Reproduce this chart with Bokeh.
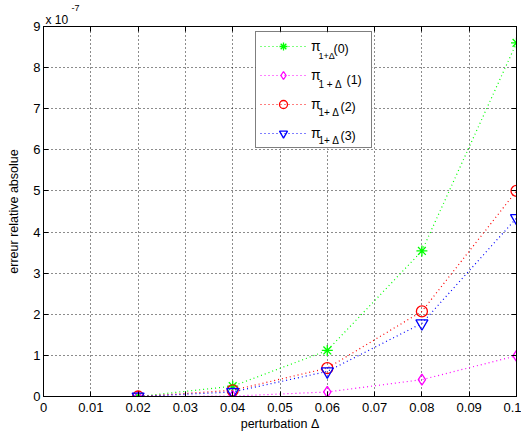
from bokeh.plotting import figure
from bokeh.models import (Range1d, FixedTicker, LinearAxis, Legend, LegendItem,
                          Label, ColumnDataSource, BoxAnnotation, Title)
from bokeh.embed import file_html
from bokeh.resources import INLINE

# ---------------- data ----------------
delta = [0.0, 0.02, 0.04, 0.06, 0.08, 0.10]
err0 = [0.0, 0.0, 0.25, 1.12, 3.54, 8.60]   # x 1e-7
err1 = [0.0, 0.0, 0.01, 0.11, 0.41, 0.99]
err2 = [0.0, 0.0, 0.15, 0.69, 2.07, 5.00]
err3 = [0.0, 0.0, 0.11, 0.61, 1.78, 4.34]
series_names = ["(0)", "(1)", "(2)", "(3)"]
subscripts = ["1+\u0394", "1 + \u0394", "1+ \u0394", "1+ \u0394"]
x_ticks = [0, 0.01, 0.02, 0.03, 0.04, 0.05, 0.06, 0.07, 0.08, 0.09, 0.1]
x_tick_labels = ["0", "0.01", "0.02", "0.03", "0.04", "0.05", "0.06", "0.07", "0.08", "0.09", "0.1"]
y_ticks = [0, 1, 2, 3, 4, 5, 6, 7, 8, 9]

FONT = "Liberation Sans"

p = figure(width=521, height=439, output_backend="svg", toolbar_location=None,
           x_range=Range1d(0, 0.1), y_range=Range1d(0, 9),
           min_border_left=43, min_border_right=5, min_border_top=26, min_border_bottom=43)
p.outline_line_color = "black"
p.outline_line_width = 1
p.background_fill_color = "white"
p.border_fill_color = "white"

for ax in (p.xaxis[0], p.yaxis[0]):
    ax.major_tick_in = 5
    ax.major_tick_out = 0
    ax.minor_tick_in = 0
    ax.minor_tick_out = 0
    ax.axis_line_color = "black"
    ax.major_tick_line_color = "black"
    ax.major_label_text_font = FONT
    ax.major_label_text_font_size = "13px"
    ax.major_label_text_color = "black"
    ax.axis_label_text_font = FONT
    ax.axis_label_text_font_size = "12.5px"
    ax.axis_label_text_font_style = "normal"
    ax.axis_label_text_color = "black"

p.xaxis[0].ticker = FixedTicker(ticks=x_ticks)
p.xaxis[0].major_label_overrides = dict(zip(x_ticks, x_tick_labels))
p.xaxis[0].major_label_standoff = 6
p.xaxis[0].axis_label = "perturbation \u0394"
p.xaxis[0].axis_label_standoff = 2

p.yaxis[0].ticker = FixedTicker(ticks=y_ticks)
p.yaxis[0].major_label_standoff = 3
p.yaxis[0].axis_label = "erreur relative absolue"
p.yaxis[0].axis_label_standoff = 9

for loc in ("right", "above"):
    tks = x_ticks if loc == "above" else y_ticks
    ax = LinearAxis(ticker=FixedTicker(ticks=tks))
    ax.major_tick_in = 5
    ax.major_tick_out = 0
    ax.minor_tick_in = 0
    ax.minor_tick_out = 0
    ax.major_label_overrides = {t: "" for t in tks}
    ax.major_label_standoff = 0
    ax.axis_line_color = "black"
    p.add_layout(ax, loc)

# x 10^-7 multiplier as titles in the top panel
p.add_layout(Title(text="x 10", align="left", offset=2, text_font=FONT,
                   text_font_size="12px", text_font_style="normal",
                   text_color="black", standoff=0), "above")
p.add_layout(Title(text="-7", align="left", offset=28, text_font=FONT,
                   text_font_size="9px", text_font_style="normal",
                   text_color="black", standoff=0), "above")

p.xgrid.ticker = FixedTicker(ticks=x_ticks)
p.ygrid.ticker = FixedTicker(ticks=y_ticks)
for g in (p.xgrid[0], p.ygrid[0]):
    g.grid_line_color = "black"
    g.grid_line_dash = "1 3"
    g.grid_line_width = 1
    g.grid_line_alpha = 0.9

# white background behind the legend (screen units, relative to the frame)
FL, FB = 43, 396
p.add_layout(BoxAnnotation(left=255 - FL, right=372 - FL, top=FB - 32, bottom=FB - 148,
                           left_units="screen", right_units="screen",
                           top_units="screen", bottom_units="screen",
                           fill_color="white", fill_alpha=1, line_color=None))

colors = ["#00ff00", "#ff00ff", "#ff0000", "#0000ff"]
markers = ["asterisk", "diamond", "circle", "inverted_triangle"]
sizes = [11, 11, 11, 12]
items = []
for ys, c, m, s in zip([err0, err1, err2, err3], colors, markers, sizes):
    src = ColumnDataSource(dict(x=delta, y=ys))
    msrc = ColumnDataSource(dict(x=delta[1:], y=ys[1:]))
    ln = p.line("x", "y", source=src, line_color=c, line_dash="1 3", line_width=1.2)
    mk = p.scatter("x", "y", source=msrc, marker=m, size=s, line_color=c,
                   fill_color=None, line_width=1.3)
    items.append(LegendItem(label="\u03c0", renderers=[ln, mk]))

# legend subscripts and indices (page positions of the reference layout)
sub_base = [55, 84, 112, 140]
sub_size = ["9px", "10px", "10px", "10px"]
idx_x = [333, 346, 340, 340]
idx_base = [48, 79, 106, 135]
for sb, ss, sub, ix, ib, nm in zip(sub_base, sub_size, subscripts, idx_x, idx_base, series_names):
    p.add_layout(Label(x=318 - FL, y=FB - sb, x_units="screen", y_units="screen",
                       text=sub, text_font=FONT, text_font_size=ss,
                       text_color="black", text_baseline="alphabetic"))
    p.add_layout(Label(x=ix - FL, y=FB - ib, x_units="screen", y_units="screen",
                       text=nm, text_font=FONT, text_font_size="12.5px",
                       text_color="black", text_baseline="alphabetic"))

legend = Legend(items=items, location=(212, 248), orientation="vertical",
                glyph_width=46, glyph_height=20, label_width=56, label_height=20,
                label_standoff=5, padding=4, spacing=9, margin=0,
                border_line_color="black", border_line_width=1,
                background_fill_alpha=0,
                label_text_font=FONT, label_text_font_size="14px",
                label_text_baseline="middle", label_text_color="black")
p.add_layout(legend)

open("out.html", "w").write(file_html(p, INLINE))
